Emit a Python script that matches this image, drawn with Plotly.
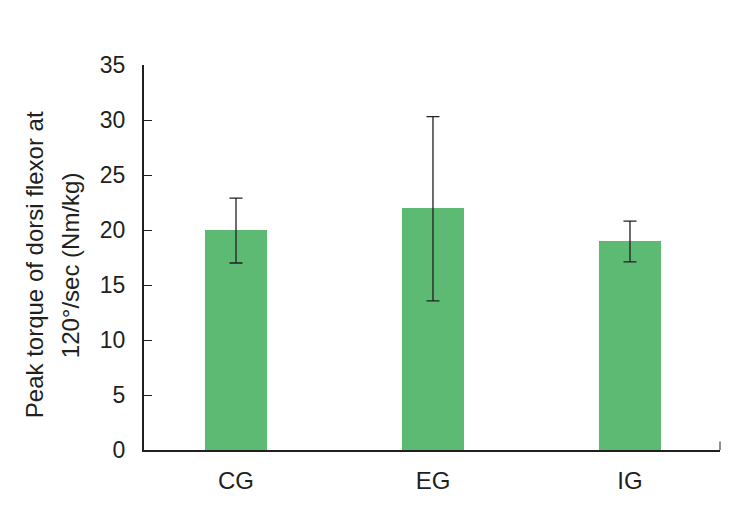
import plotly.graph_objects as go

groups = ["CG", "EG", "IG"]
peak_torque = [20.0, 22.0, 19.0]
err_plus = [2.9, 8.3, 1.8]
err_minus = [3.0, 8.45, 1.9]
y_ticks = [0, 5, 10, 15, 20, 25, 30, 35]
y_title_lines = ["Peak torque of dorsi flexor at", "120°/sec (Nm/kg)"]

font_family = "Liberation Sans Narrow, Liberation Sans, Arial, sans-serif"
green = "#5cba72"
axis_col = "#231f20"

fig = go.Figure()
fig.add_trace(go.Bar(
    x=groups, y=peak_torque,
    width=0.315,
    marker=dict(color=green, line=dict(width=0)),
    error_y=dict(type="data", symmetric=False, array=err_plus, arrayminus=err_minus,
                 color=axis_col, thickness=1.3, width=6.5),
))

fig.update_layout(
    width=743, height=522,
    margin=dict(l=144, r=23, t=65, b=72),
    plot_bgcolor="white", paper_bgcolor="white",
    font=dict(family=font_family, size=22, color=axis_col),
    showlegend=False,
    xaxis=dict(
        range=[-0.467, 2.457],
        showline=True, linecolor=axis_col, linewidth=2,
        ticks="", showgrid=False, zeroline=False,
        ticklabelstandoff=8,
        tickfont=dict(size=24),
    ),
    yaxis=dict(
        range=[0, 35], tickvals=y_ticks,
        showline=True, linecolor=axis_col, linewidth=2,
        ticks="inside", ticklen=8, tickwidth=1, tickcolor=axis_col,
        showgrid=False, zeroline=False,
        ticklabelstandoff=12,
        tickfont=dict(size=23),
    ),
)

# y-axis title as two rotated lines (to match the line spacing)
for line, xs in zip(y_title_lines, [-110, -74]):
    fig.add_annotation(text=line, textangle=-90, showarrow=False,
                       xref="paper", yref="paper", x=0, y=0.48,
                       xanchor="center", yanchor="middle", xshift=xs,
                       font=dict(size=24, color=axis_col))

# small end tick at the right end of the x axis
fig.add_shape(type="line", xref="x domain", yref="y domain",
              x0=1, x1=1, y0=0, y1=0.022,
              line=dict(color=axis_col, width=1))

fig.write_html("out.html", config={"displayModeBar": False},
               post_script="document.body.style.margin='0';")
